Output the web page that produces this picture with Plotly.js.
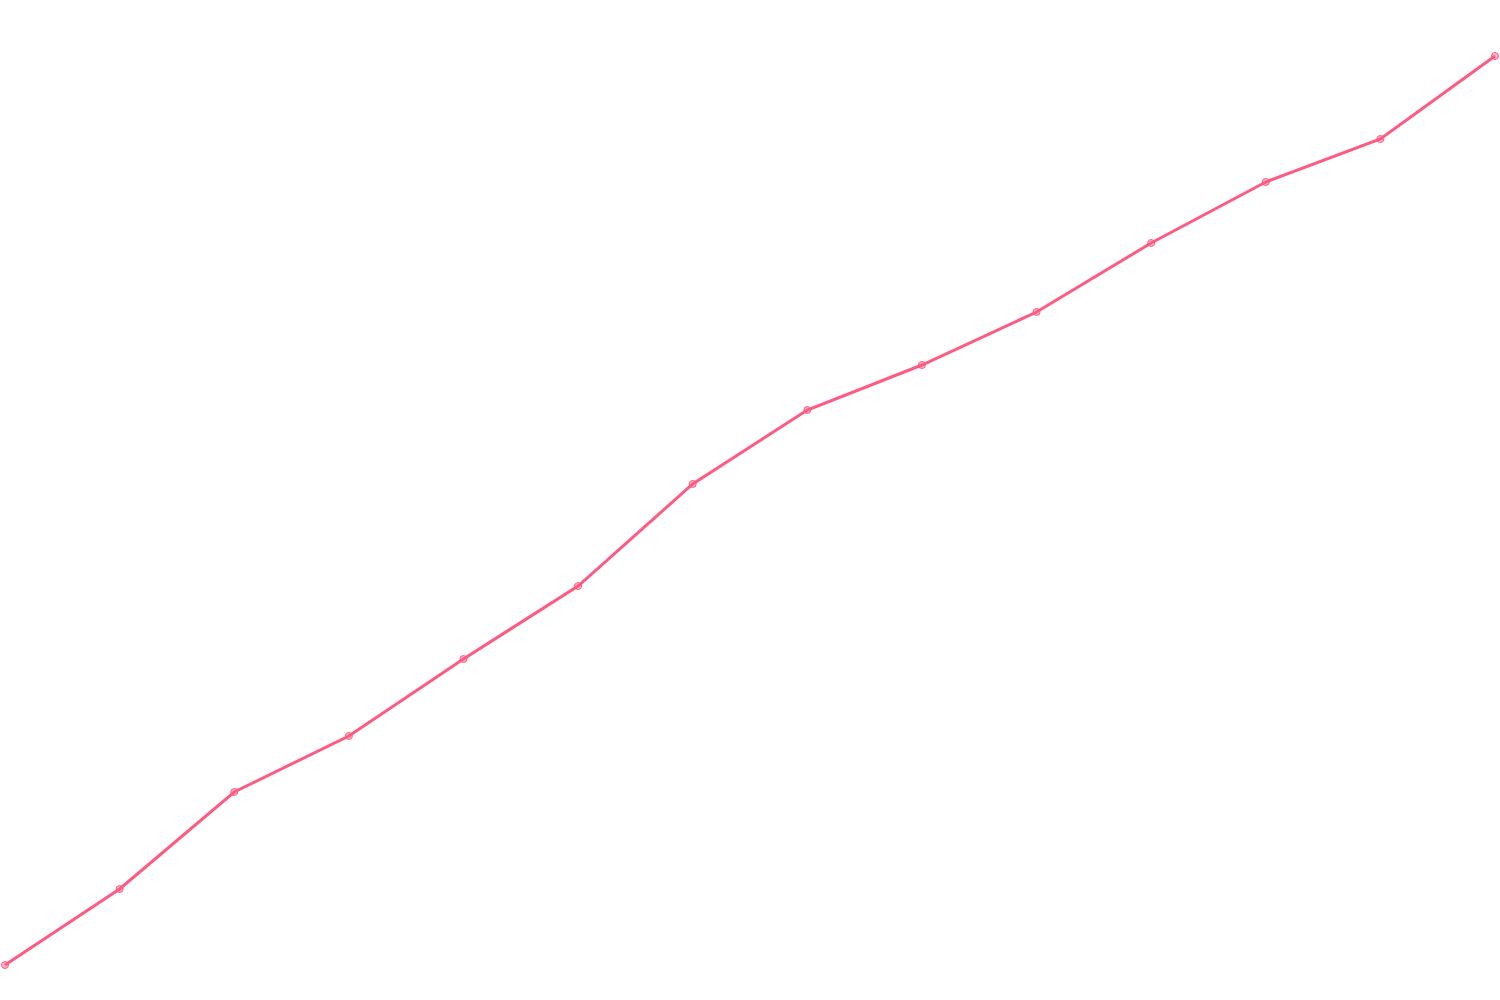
<!DOCTYPE html>
<html>
<head>
<meta charset="utf-8">
<script src="https://cdn.plot.ly/plotly-3.0.1.min.js"></script>
<style>html,body{margin:0;padding:0;background:#fff;}#chart{width:1500px;height:1000px;}</style>
</head>
<body>
<div id="chart"></div>
<script>
const xIndex = [0,1,2,3,4,5,6,7,8,9,10,11,12,13];
const values = [35, 111, 208, 264, 341, 414, 516, 590, 635, 688, 757, 818, 861, 944];

const pxPerUnit = 1490 / 13;
const pad = 5 / pxPerUnit;

Plotly.newPlot('chart', [{
  x: xIndex,
  y: values,
  type: 'scatter',
  mode: 'lines+markers',
  line: {color: 'rgb(255,90,130)', width: 3},
  marker: {size: 7, color: 'rgba(255,90,130,0.45)', line: {color: 'rgb(255,90,130)', width: 1}},
  cliponaxis: false,
  hoverinfo: 'none'
}], {
  width: 1500,
  height: 1000,
  margin: {l: 0, r: 0, t: 0, b: 0},
  paper_bgcolor: '#ffffff',
  plot_bgcolor: '#ffffff',
  showlegend: false,
  xaxis: {range: [-pad, 13 + pad], visible: false, fixedrange: true},
  yaxis: {range: [0, 1000], visible: false, fixedrange: true}
}, {displayModeBar: false, staticPlot: true});
</script>
</body>
</html>
